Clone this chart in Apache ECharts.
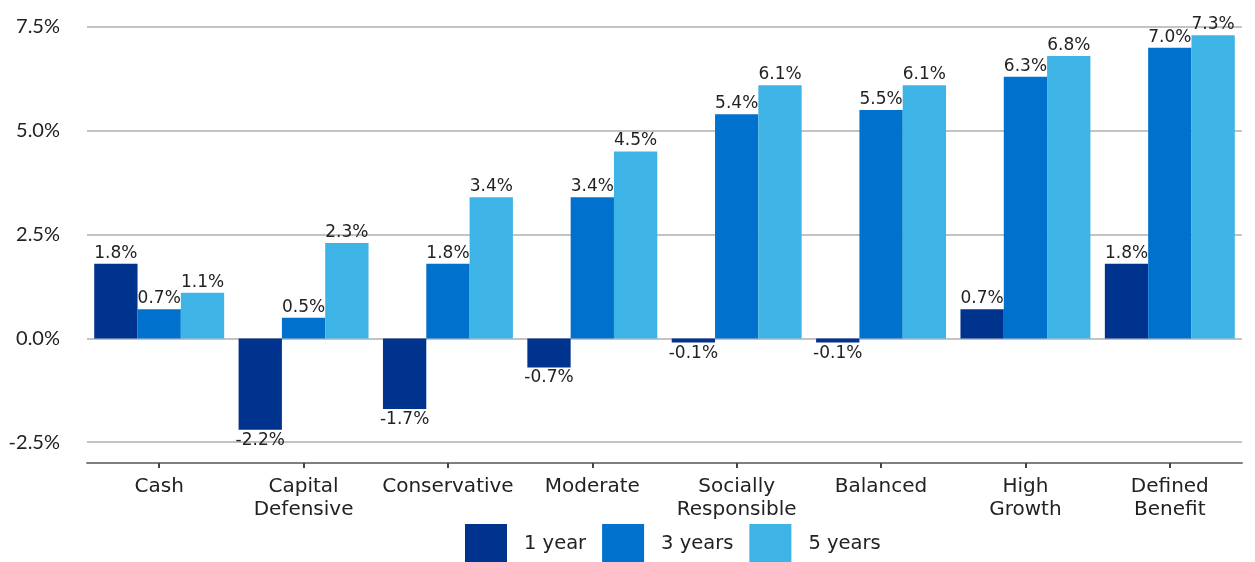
<!DOCTYPE html>
<html>
<head>
<meta charset="utf-8">
<script src="https://cdn.jsdelivr.net/npm/echarts@6/dist/echarts.min.js"></script>
<style>html,body{margin:0;padding:0;background:#fff;}#c{width:1255px;height:562px;}</style>
</head>
<body>
<div id="c"></div>
<script>
const categories = ['Cash', 'Capital\nDefensive', 'Conservative', 'Moderate', 'Socially\nResponsible', 'Balanced', 'High\nGrowth', 'Defined\nBenefit'];
const oneYear = [1.8, -2.2, -1.7, -0.7, -0.1, -0.1, 0.7, 1.8];
const threeYears = [0.7, 0.5, 1.8, 3.4, 5.4, 5.5, 6.3, 7.0];
const fiveYears = [1.1, 2.3, 3.4, 4.5, 6.1, 6.1, 6.8, 7.3];
const seriesNames = ['1 year', '3 years', '5 years'];
const colors = ['#00338D', '#0072CE', '#3EB4E6'];

const FONT = '"DejaVu Sans", sans-serif';
function mkData(arr) {
  return arr.map(v => ({ value: v, label: { position: v < 0 ? 'bottom' : 'top' } }));
}
function mkSeries(name, arr, color) {
  return {
    name: name, type: 'bar', data: mkData(arr),
    barGap: '0%', barCategoryGap: '10%',
    itemStyle: { color: color },
    label: { show: true, distance: 2, color: '#222', fontFamily: FONT, fontSize: 17,
      formatter: p => p.value.toFixed(1) + '%' }
  };
}
const chart = echarts.init(document.getElementById('c'), null, { renderer: 'canvas' });
chart.setOption({
  animation: false,
  color: colors,
  grid: { left: 87, right: 13, top: 27, bottom: 99, containLabel: false },
  xAxis: {
    type: 'category', data: categories,
    axisLine: { onZero: false, lineStyle: { color: '#7f7f7f', width: 2 } },
    axisTick: { show: true, alignWithLabel: true, length: 5, lineStyle: { color: '#444', width: 2 } },
    axisLabel: { interval: 0, margin: 12, color: '#222', fontFamily: FONT, fontSize: 20, lineHeight: 23 }
  },
  yAxis: {
    type: 'value', min: -3, max: 7.5, interval: 0.5,
    axisLine: { show: false }, axisTick: { show: false },
    splitLine: { show: true, showMinLine: true, showMaxLine: true,
      lineStyle: { width: 2, color: ['rgba(0,0,0,0)', '#c3c3c3', 'rgba(0,0,0,0)', 'rgba(0,0,0,0)', 'rgba(0,0,0,0)'] } },
    axisLabel: { margin: 27, color: '#222', fontFamily: 'Lato, sans-serif', fontSize: 20,
      formatter: v => { const r = v / 2.5; return Math.abs(r - Math.round(r)) < 1e-6 ? v.toFixed(1) + '%' : ''; } }
  },
  legend: {
    left: 465, top: 524, padding: 0, itemWidth: 42, itemHeight: 40, itemGap: 16,
    icon: 'rect',
    textStyle: { color: '#222', fontFamily: FONT, fontSize: 19.5, padding: [6, 0, 0, 12] },
    data: seriesNames
  },
  series: [
    mkSeries(seriesNames[0], oneYear, colors[0]),
    mkSeries(seriesNames[1], threeYears, colors[1]),
    mkSeries(seriesNames[2], fiveYears, colors[2])
  ]
});
</script>
</body>
</html>
